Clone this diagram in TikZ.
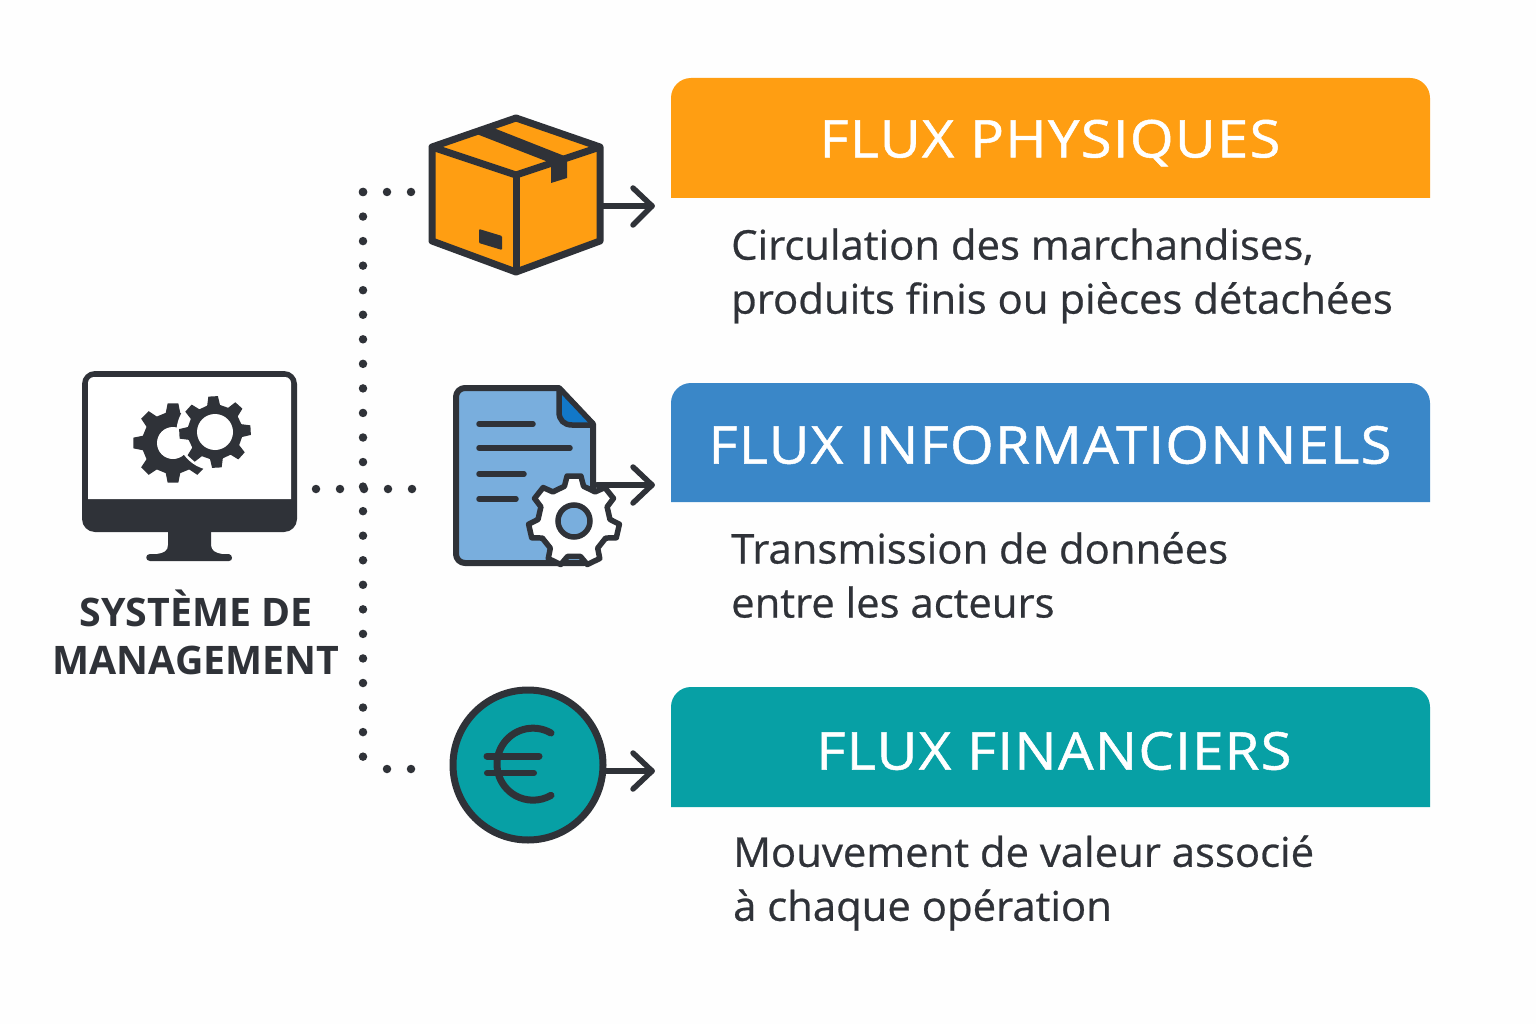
\documentclass[tikz,border=0pt]{standalone}
\usepackage{fontspec}
\setmainfont{Open Sans}
\newfontfamily\headfont[FakeStretch=1.08,LetterSpace=2.5,FakeBold=1]{Open Sans}
\newfontfamily\bodyfont[FakeStretch=1.02,FakeBold=0.6]{Open Sans}
\definecolor{ink}{HTML}{2F3238}
\definecolor{orangeC}{HTML}{FF9E12}
\definecolor{blueC}{HTML}{3A87C8}
\definecolor{tealC}{HTML}{07A0A5}
\definecolor{docC}{HTML}{79AEDD}
\definecolor{foldC}{HTML}{1278C8}
\definecolor{bgC}{HTML}{FEFEFE}
\newcommand{\gearpath}[6]{([shift={(#1,#2)}]{#6-0.30*360/#5}:#4)
  \foreach \i [evaluate=\i as \a using #6+360*\i/#5] in {0,...,\numexpr#5-1\relax}{
   -- ([shift={(#1,#2)}]{\a-0.30*360/#5}:#4)
   -- ([shift={(#1,#2)}]{\a-0.17*360/#5}:#3)
   -- ([shift={(#1,#2)}]{\a+0.17*360/#5}:#3)
   -- ([shift={(#1,#2)}]{\a+0.30*360/#5}:#4)} -- cycle}
\tikzset{
  dotline/.style={ink,line width=8.5pt,line cap=round,dash pattern=on 0pt off 24.55pt},
  dotrow/.style={ink,line width=8.5pt,line cap=round,dash pattern=on 0pt off 24pt},
  flowarrow/.style={ink,line width=5.5pt,line cap=round,line join=round},
  outline/.style={draw=ink,line width=7pt,line join=round},
  headtext/.style={text=white,font=\headfont\fontsize{52}{52}\selectfont,inner sep=0pt},
  bodytext/.style={text=ink,font=\bodyfont\fontsize{41}{54}\selectfont,align=left,anchor=west,inner sep=0pt},
  titletext/.style={text=ink,font=\bfseries\fontsize{39.3}{48}\selectfont,align=center,inner sep=0pt},
  docline/.style={ink,line width=5.5pt,line cap=round}
}
\begin{document}
\begin{tikzpicture}[x=1pt,y=-1pt]
\useasboundingbox (0,0) rectangle (1536,1024);
\fill[bgC] (0,0) rectangle (1536,1024);
% monitor
\fill[ink,rounded corners=13pt] (82,371) rectangle (297,532);
\fill[white,rounded corners=6pt] (88,377) -- (291,377) [sharp corners] -- (291,499) -- (88,499) [rounded corners=6pt] -- cycle;
\fill[ink] (168,530) -- (211,530) -- (211,545) .. controls (211,551) and (216,553) .. (222,554) -- (229,554) .. controls (233,555) and (233,561) .. (229,561) -- (150,561) .. controls (145,561) and (145,554) .. (150,554) -- (157,554) .. controls (164,553) and (168,551) .. (168,545) -- cycle;
\fill[ink] \gearpath{173}{443}{40}{31}{8}{0};
\fill[white] (173,443) circle (16);
\fill[white] (215,432) circle (38.5);
\fill[ink] \gearpath{215}{432}{36}{27.5}{8}{-3};
\fill[white] (215,432) circle (18);
\node[titletext] (title) at (196,632) {SYSTÈME DE\\MANAGEMENT};
% dotted connectors
\coordinate (busTop) at (363,192);
\coordinate (busBot) at (363,762);
\coordinate (monE) at (316,489);
\coordinate (docW) at (414,489);
\coordinate (boxW) at (414,192);
\coordinate (euroW) at (414,769);
\draw[dotline] (busTop) -- (busBot);
\draw[dotrow] (monE) -- (docW);
\draw[dotrow] (busTop) -- (boxW);
\draw[dotrow] (363,769) ++(24,0) -- (euroW);
% box
\fill[orangeC] (516,118) -- (600,147) -- (600,241) -- (516,272) -- (432,241) -- (432,147) -- cycle;
\draw[outline] (516,118) -- (600,147) -- (600,241) -- (516,272) -- (432,241) -- (432,147) -- cycle;
\draw[outline] (432,147) -- (516,175) -- (600,147);
\draw[outline] (516,175) -- (516,272);
\fill[ink] (474,133) -- (491,127) -- (567,157) -- (567,178) -- (551,183) -- (551,163) -- cycle;
\fill[ink,rounded corners=1pt] (479,229) -- (502,236) -- (502,250) -- (479,243) -- cycle;
\coordinate (boxE) at (603,206);
\coordinate (boxT) at (652,206);
\draw[flowarrow] (boxE) -- (boxT);
\draw[flowarrow] (633,188) -- (boxT) -- (633,225);
% document
\draw[outline,line width=6pt,fill=docC,rounded corners=9pt] (559,388) -- (456,388) -- (456,563) -- (593,563) [sharp corners] -- (593,424) -- cycle;
\fill[foldC] (559,388) -- (593,424) -- (567,424) -- (559,414) -- cycle;
\draw[ink,line width=5.5pt,line join=round] (559,388) -- (559,412) .. controls (559,420) and (564,425) .. (572,425) -- (593,425);
\draw[ink,line width=5pt,line join=round] (559,388) -- (593,424);
\draw[docline] (479,424) -- (533,424);
\draw[docline] (479,448) -- (570,448);
\draw[docline] (479,474) -- (524,474);
\draw[docline] (479,499) -- (516,499);
\coordinate (docE) at (597,485);
\coordinate (docT) at (652,485);
\draw[flowarrow] (docE) -- (docT);
\draw[flowarrow] (633,467) -- (docT) -- (633,503);
\draw[ink,line width=5.5pt,line join=round,fill=white] \gearpath{574}{521}{45.5}{36}{7}{-90};
\draw[ink,line width=5.5pt,fill=docC] (574,521) circle (16);
% coin
\draw[outline,fill=tealC] (528,765) circle (75);
\draw[ink,line width=7pt,line cap=round] (551,733) arc[start angle=-60,end angle=-300,radius=36];
\draw[ink,line width=7pt,line cap=round] (487,756) -- (539,756);
\draw[ink,line width=6pt,line cap=round] (487,773) -- (534,773);
\coordinate (euroE) at (604,771);
\coordinate (euroT) at (652,771);
\draw[flowarrow] (euroE) -- (euroT);
\draw[flowarrow] (633,753) -- (euroT) -- (633,789);
% headers
\fill[orangeC] (671,198) [rounded corners=20pt] -- (671,78) -- (1430,78) [sharp corners] -- (1430,198) -- cycle;
\fill[blueC] (671,502) [rounded corners=20pt] -- (671,383) -- (1430,383) [sharp corners] -- (1430,502) -- cycle;
\fill[tealC] (671,807) [rounded corners=20pt] -- (671,687) -- (1430,687) [sharp corners] -- (1430,807) -- cycle;
\node[headtext] (h1) at (1050,143) {FLUX PHYSIQUES};
\node[headtext] (h2) at (1050,445) {FLUX INFORMATIONNELS};
\node[headtext] (h3) at (1054,751) {FLUX FINANCIERS};
\node[bodytext] (b1) at (731,276) {Circulation des marchandises,\\produits finis ou pièces détachées};
\node[bodytext] (b2) at (731,575) {Transmission de données\\entre les acteurs};
\node[bodytext] (b3) at (733,883) {Mouvement de valeur associé\\à chaque opération};
\end{tikzpicture}
\end{document}
